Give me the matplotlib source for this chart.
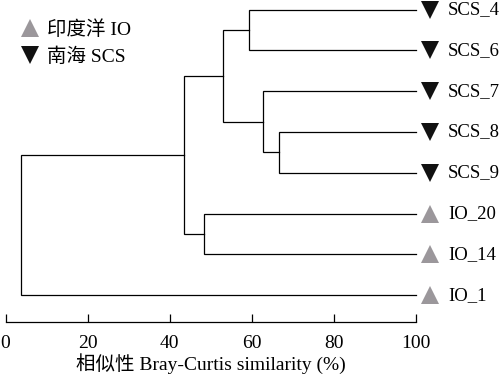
import matplotlib
matplotlib.use("Agg")
import matplotlib.pyplot as plt
from matplotlib.lines import Line2D

# Leaves from top to bottom
leaves = ["SCS_4", "SCS_6", "SCS_7", "SCS_8", "SCS_9", "IO_20", "IO_14", "IO_1"]
groups = ["SCS", "SCS", "SCS", "SCS", "SCS", "IO", "IO", "IO"]

# Merges: (left node, right node, similarity %). Node ids >= len(leaves) are earlier merges
merges = [
    (0, 1, 59.4),   # 8: SCS_4 + SCS_6
    (3, 4, 66.6),   # 9: SCS_8 + SCS_9
    (2, 9, 62.8),   # 10: SCS_7 + (8, 9)
    (8, 10, 53.0),  # 11: SCS cluster
    (5, 6, 48.4),   # 12: IO_20 + IO_14
    (11, 12, 43.5), # 13
    (13, 7, 3.7),   # 14: root
]

xticks = [0, 20, 40, 60, 80, 100]
xlabel = "相似性 Bray-Curtis similarity (%)"
legend_labels = {"IO": "印度洋 IO", "SCS": "南海 SCS"}

colors = {"IO": "#9b979b", "SCS": "#111111"}
markers = {"IO": "^", "SCS": "v"}
fonts = ["Liberation Serif", "Noto Sans CJK SC"]
plt.rcParams["font.family"] = fonts

fig = plt.figure(figsize=(5, 3.78), dpi=100)
ax = fig.add_axes([0.011, 0.148, 0.821, 0.848])

n = len(leaves)
pos = {i: (100.0, n - 1 - i) for i in range(n)}  # node -> (x, y)

for k, (a, b, s) in enumerate(merges):
    xa, ya = pos[a]
    xb, yb = pos[b]
    ax.plot([xa, s, s, xb], [ya, ya, yb, yb], color="black", lw=0.9,
            solid_joinstyle="miter", clip_on=False)
    pos[n + k] = (s, (ya + yb) / 2)

for i, (name, g) in enumerate(zip(leaves, groups)):
    y = n - 1 - i
    ax.plot(103.5, y, marker=markers[g], color=colors[g], ms=13, mew=0,
            clip_on=False)
    ax.text(107.8, y, name, va="center", ha="left", fontsize=13.5)

handles = [Line2D([], [], ls="none", marker=markers[g], color=colors[g], ms=13, mew=0)
           for g in ["IO", "SCS"]]
ax.legend(handles, [legend_labels["IO"], legend_labels["SCS"]], loc="upper left",
          bbox_to_anchor=(-0.008, 0.985), frameon=False, fontsize=14,
          handletextpad=0.1, labelspacing=0.45, borderaxespad=0.3,
          handlelength=1.5)

ax.set_xlim(0, 100)
ax.set_ylim(-0.66, 7.2)
for side in ["top", "right", "left"]:
    ax.spines[side].set_visible(False)
ax.spines["bottom"].set_linewidth(0.9)
ax.set_yticks([])
ax.set_xticks(xticks)
ax.tick_params(axis="x", direction="in", length=6, width=0.9, labelsize=14, pad=9)
ax.set_xlabel(xlabel, fontsize=14, labelpad=1)

fig.savefig("out.png", dpi=100)
